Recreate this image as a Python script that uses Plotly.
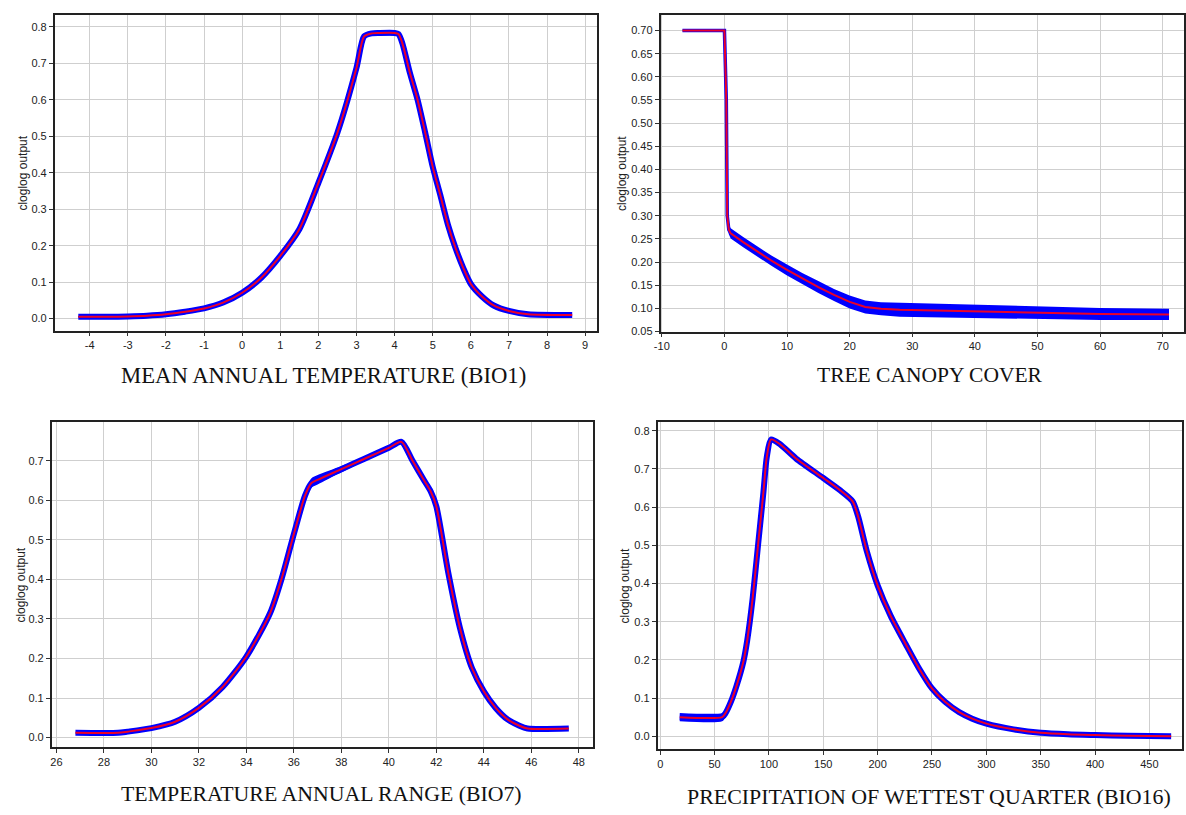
import plotly.graph_objects as go

# ---- response curves (cloglog output) ----
bio1_x = [-4.3, -3.5, -3.0, -2.5, -2.0, -1.5, -1.0, -0.5, 0.0, 0.5, 1.0, 1.5, 2.0, 2.5, 3.0, 3.2, 3.4,
          3.6, 4.0, 4.1, 4.2, 4.4, 4.6, 4.8, 5.0, 5.2, 5.4, 5.6, 5.8, 6.0, 6.3, 6.6, 7.0, 7.5, 8.66]
bio1_y = [0.005, 0.005, 0.006, 0.008, 0.012, 0.019, 0.028, 0.044, 0.071, 0.112, 0.172, 0.245, 0.372, 0.51,
          0.688, 0.774, 0.782, 0.783, 0.783, 0.78, 0.756, 0.674, 0.601, 0.511, 0.416, 0.338, 0.257, 0.193,
          0.139, 0.095, 0.060, 0.036, 0.021, 0.012, 0.010]
bio1_sd = [0.002, 0.002, 0.002, 0.002, 0.002, 0.003, 0.003, 0.004, 0.005, 0.006, 0.006, 0.006, 0.006, 0.006,
           0.006, 0.006, 0.006, 0.007, 0.007, 0.006, 0.006, 0.006, 0.007, 0.007, 0.006, 0.006, 0.006, 0.006,
           0.006, 0.005, 0.004, 0.003, 0.002, 0.001, 0.0]

tcc_x = [-6.7, 0.0, 0.3, 0.45, 0.7, 1.0, 3.0, 5.0, 7.5, 10.0, 12.5, 15.0, 17.5, 20.0, 22.5, 25.0, 28.0,
         32.0, 38.0, 45.0, 52.0, 60.0, 71.0]
tcc_y = [0.70, 0.70, 0.55, 0.30, 0.27, 0.262, 0.243, 0.225, 0.203, 0.183, 0.164, 0.146, 0.129, 0.114, 0.103,
         0.099, 0.097, 0.096, 0.094, 0.092, 0.090, 0.088, 0.087]
tcc_sd = [0.0, 0.0, 0.0, 0.002, 0.010, 0.011, 0.011, 0.011, 0.011, 0.012, 0.012, 0.013, 0.013, 0.014, 0.014,
          0.014, 0.015, 0.015, 0.014, 0.014, 0.013, 0.013, 0.012]

bio7_x = [26.8, 28.6, 29.0, 30.0, 31.0, 32.0, 33.0, 34.0, 35.0, 35.5, 36.0, 36.47, 36.74, 37.0, 38.0, 39.0,
          40.0, 40.53, 41.0, 41.5, 41.76, 42.0, 42.5, 43.0, 43.5, 44.0, 44.5, 45.0, 45.5, 45.84, 47.58]
bio7_y = [0.012, 0.012, 0.015, 0.024, 0.040, 0.075, 0.128, 0.205, 0.315, 0.405, 0.515, 0.612, 0.644, 0.652,
          0.679, 0.706, 0.733, 0.748, 0.700, 0.649, 0.623, 0.585, 0.418, 0.276, 0.176, 0.117, 0.075, 0.046,
          0.030, 0.023, 0.023]
bio7_sd = [0.0, 0.0, 0.002, 0.003, 0.004, 0.005, 0.006, 0.006, 0.005, 0.005, 0.005, 0.006, 0.012, 0.012,
           0.008, 0.005, 0.004, 0.005, 0.004, 0.004, 0.004, 0.004, 0.004, 0.004, 0.004, 0.004, 0.003, 0.002,
           0.001, 0.0, 0.0]

bio16_x = [18, 57, 60, 65, 70, 76.5, 80, 85, 90, 95, 98, 102, 110, 125, 150, 165, 177, 182, 190, 200, 212,
           226, 238, 250, 262, 275, 287, 300, 325, 350, 375, 400, 430, 470]
bio16_y = [0.05, 0.05, 0.06, 0.09, 0.13, 0.195, 0.25, 0.36, 0.50, 0.64, 0.73, 0.777, 0.765, 0.727, 0.676,
           0.645, 0.615, 0.576, 0.485, 0.395, 0.315, 0.24, 0.178, 0.125, 0.09, 0.063, 0.046, 0.033, 0.018,
           0.009, 0.005, 0.003, 0.001, 0.0]
bio16_sd = [0.011, 0.011, 0.010, 0.008, 0.006, 0.005, 0.004, 0.004, 0.003, 0.003, 0.004, 0.006, 0.004,
            0.003, 0.003, 0.005, 0.008, 0.004, 0.003, 0.003, 0.003, 0.003, 0.003, 0.003, 0.002, 0.002,
            0.002, 0.002, 0.001, 0.001, 0.0, 0.0, 0.0, 0.0]

# tick labels (plain hyphen for negatives)
bio1_ticks = list(range(-4, 10))
bio1_ticktext = [str(v) for v in bio1_ticks]
tcc_ticks = list(range(-10, 80, 10))
tcc_ticktext = [str(v) for v in tcc_ticks]

captions = ["MEAN ANNUAL TEMPERATURE (BIO1)", "TREE CANOPY COVER",
            "TEMPERATURE ANNUAL RANGE (BIO7)", "PRECIPITATION OF WETTEST QUARTER (BIO16)"]
y_label = "cloglog output"

W, H = 1186, 815

# panel geometry in pixels: (left, right, top, bottom)
panels = [
    dict(box=(48, 594, 15, 333), xr=(-4.92, 9.31), yr=(-0.0327, 0.8327), xd=1, yd=0.1, yf=".1f",
         x=bio1_x, y=bio1_y, sd=bio1_sd, cap_xy=(319, 378), cap_size=22.7, lab_x=16,
         tv=bio1_ticks, tt=bio1_ticktext, shape="spline", core=6),
    dict(box=(658, 1185, 15, 334), xr=(-10.2, 73.4), yr=(0.05, 0.7337), xd=10, yd=0.05, yf=".2f",
         x=tcc_x, y=tcc_y, sd=tcc_sd, cap_xy=(929, 378), cap_size=21.5, lab_x=619,
         tv=tcc_ticks, tt=tcc_ticktext, shape="linear", core=3.5),
    dict(box=(45, 590, 425, 753), xr=(25.8, 48.6), yr=(-0.025, 0.7986), xd=2, yd=0.1, yf=".1f",
         x=bio7_x, y=bio7_y, sd=bio7_sd, cap_xy=(317, 800), cap_size=21.8, lab_x=14,
         tv=None, tt=None, shape="spline", core=6),
    dict(box=(655, 1183, 425, 755), xr=(-2.4, 480), yr=(-0.0346, 0.823), xd=50, yd=0.1, yf=".1f",
         x=bio16_x, y=bio16_y, sd=bio16_sd, cap_xy=(928, 802), cap_size=21.9, lab_x=622,
         tv=None, tt=None, shape="spline", core=6),
]

fig = go.Figure()
layout = {}
annotations = []
tick_font = dict(family="Liberation Sans, Arial, sans-serif", size=11, color="#222")

for i, p in enumerate(panels):
    n = i + 1
    xa = "x" if n == 1 else f"x{n}"
    ya = "y" if n == 1 else f"y{n}"
    lo = [m - s for m, s in zip(p["y"], p["sd"])]
    hi = [m + s for m, s in zip(p["y"], p["sd"])]
    shp = dict(shape="spline", smoothing=0.7) if p["shape"] == "spline" else dict(shape="linear")
    # uncertainty band
    fig.add_trace(go.Scatter(x=p["x"], y=lo, mode="lines", line=dict(width=0, color="blue", **shp),
                             xaxis=xa, yaxis=ya, showlegend=False, hoverinfo="skip"))
    fig.add_trace(go.Scatter(x=p["x"], y=hi, mode="lines", line=dict(width=0, color="blue", **shp),
                             fill="tonexty", fillcolor="rgb(0,0,255)",
                             xaxis=xa, yaxis=ya, showlegend=False, hoverinfo="skip"))
    fig.add_trace(go.Scatter(x=p["x"], y=p["y"], mode="lines",
                             line=dict(width=p["core"], color="rgb(0,0,255)", **shp),
                             xaxis=xa, yaxis=ya, showlegend=False, hoverinfo="skip"))
    # mean response
    fig.add_trace(go.Scatter(x=p["x"], y=p["y"], mode="lines",
                             line=dict(width=2, color="rgb(235,0,40)", **shp),
                             xaxis=xa, yaxis=ya, showlegend=False))

    l, r, t, b = p["box"]
    dx = [l / W, r / W]
    dy = [1 - b / H, 1 - t / H]
    common = dict(showline=True, linecolor="#222", linewidth=1.5, mirror=True,
                  showgrid=True, gridcolor="#cfcfcf", gridwidth=1.3, zeroline=False,
                  ticks="outside", ticklen=4, tickwidth=1.2, tickcolor="#333",
                  tickfont=tick_font, fixedrange=True)
    xkey = "xaxis" if n == 1 else f"xaxis{n}"
    ykey = "yaxis" if n == 1 else f"yaxis{n}"
    xticks = dict(tickvals=p["tv"], ticktext=p["tt"]) if p["tv"] else dict(dtick=p["xd"], tick0=0)
    layout[xkey] = dict(domain=dx, range=list(p["xr"]), anchor=ya, **xticks, **common)
    layout[ykey] = dict(domain=dy, range=list(p["yr"]), dtick=p["yd"], tick0=0, tickformat=p["yf"],
                        anchor=xa, **common)
    # inward ticks on top and right edges
    layout[f"xaxis{n + 4}"] = dict(overlaying=xa, matches=xa, anchor=ya, side="top", range=list(p["xr"]),
                                   dtick=p["xd"], tick0=0, ticks="inside", ticklen=4, tickcolor="#333",
                                   showticklabels=False, showgrid=False, showline=False, zeroline=False)
    layout[f"yaxis{n + 4}"] = dict(overlaying=ya, matches=ya, anchor=xa, side="right", range=list(p["yr"]),
                                   dtick=p["yd"], tick0=0, ticks="inside", ticklen=4, tickcolor="#333",
                                   showticklabels=False, showgrid=False, showline=False, zeroline=False)

    cx, cy = p["cap_xy"]
    annotations.append(dict(text=captions[i], x=cx / W, y=1 - cy / H, xref="paper", yref="paper",
                            xanchor="center", yanchor="middle", showarrow=False,
                            font=dict(family="Liberation Serif, Times New Roman, serif", size=p["cap_size"],
                                      color="#111")))
    annotations.append(dict(text=y_label, x=p["lab_x"] / W, y=1 - ((t + b) / 2) / H, xref="paper",
                            yref="paper", xanchor="center", yanchor="middle", textangle=-90,
                            showarrow=False,
                            font=dict(family="Liberation Sans, Arial, sans-serif", size=12, color="#222")))

fig.update_layout(width=W, height=H, margin=dict(l=0, r=0, t=0, b=0), paper_bgcolor="white",
                  plot_bgcolor="white", annotations=annotations, **layout)

fig.write_html("out.html")
